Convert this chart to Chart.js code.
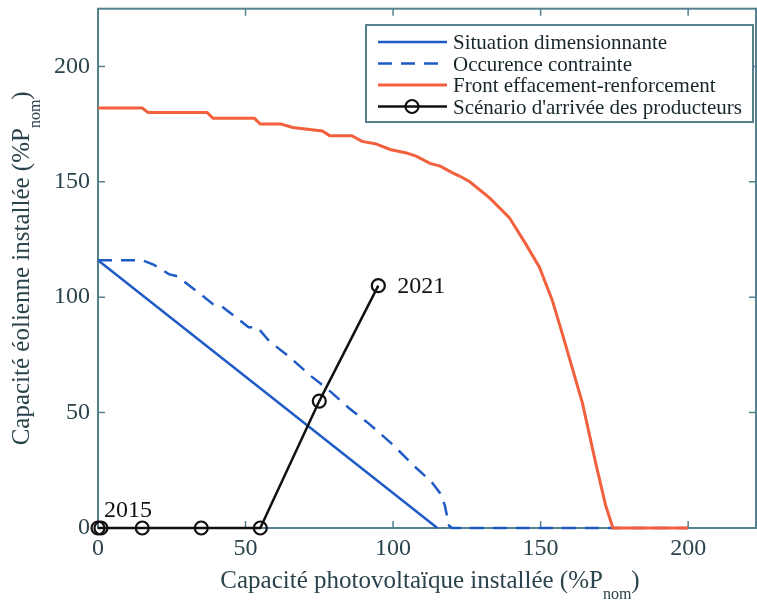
<!DOCTYPE html>
<html>
<head>
<meta charset="utf-8">
<script src="https://cdn.jsdelivr.net/npm/chart.js@4.4.1/dist/chart.umd.min.js"></script>
<style>
  html, body { margin: 0; padding: 0; background: #fff; }
  #wrap { width: 757px; height: 603px; }
</style>
</head>
<body>
<div id="wrap"><canvas id="chart" width="757" height="603"></canvas></div>
<script>
// Situation dimensionnante
const solidPv = [0, 115];
const solidWind = [116, 0];

// Occurence contrainte
const dashedPv = [0, 15, 19, 24, 27, 33, 39, 42, 48, 51, 54, 58, 65, 72, 78, 85, 92, 100, 107, 113, 116, 117.5, 119, 120, 200];
const dashedWind = [116, 116, 114, 110, 109, 103, 97, 96, 90, 87, 87, 81, 74, 66, 60, 52, 45, 36, 27, 20, 15, 10, 1, 0, 0];

// Front effacement-renforcement
const frontPv = [0, 15, 17, 37, 39, 53, 55, 62, 66, 76, 78.5, 86, 89.5, 94, 99, 104.5, 108, 112.5, 116, 120, 122.5, 126, 132.7, 139.4, 145, 149.6, 154, 157.4, 164.2, 168.7, 172, 174.5, 200];
const frontWind = [182, 182, 180, 180, 177.5, 177.5, 175, 175, 173.5, 172, 170, 170, 167.5, 166.5, 164, 162.5, 161, 158, 156.8, 154, 152.5, 150, 143, 134.5, 123, 113, 98.5, 84, 54, 28, 10, 0, 0];

// Scénario d'arrivée des producteurs
const scenPv = [0, 1, 15, 35, 55, 75, 95];
const scenWind = [0, 0, 0, 0, 0, 55, 105];

const xTicks = [0, 50, 100, 150, 200];
const yTicks = [0, 50, 100, 150, 200];

const seriesNames = ['Situation dimensionnante', 'Occurence contrainte', 'Front effacement-renforcement', "Scénario d'arrivée des producteurs"];

const BLUE = '#1f5bc6';
const RED = '#f2603e';
const BLACK = '#111111';
const AXIS = '#55808e';
const SERIF = '"Liberation Serif", "DejaVu Serif", serif';

function pts(xs, ys) {
    return xs.map((x, i) => ({ x: x, y: ys[i] }));
}

// frame, inward ticks, axis titles, year labels and legend
const decor = {
    id: 'decor',
    afterLayout(chart) {
        // plot box runs to the right edge of the figure
        const right = chart.width - 1;
        const sx = chart.scales.x;
        chart.chartArea.right = right;
        chart.chartArea.width = right - chart.chartArea.left;
        sx.right = right;
        sx.width = right - sx.left;
        sx.configure();
    },
    beforeDatasetsDraw(chart) {
        const ctx = chart.ctx;
        const a = chart.chartArea;
        const sx = chart.scales.x, sy = chart.scales.y;
        ctx.save();
        ctx.strokeStyle = AXIS;
        ctx.lineWidth = 2;
        ctx.strokeRect(a.left, a.top, a.right - a.left, a.bottom - a.top);
        ctx.lineWidth = 1.5;
        ctx.beginPath();
        xTicks.forEach(v => {
            const px = sx.getPixelForValue(v);
            ctx.moveTo(px, a.bottom); ctx.lineTo(px, a.bottom - 7);
            ctx.moveTo(px, a.top); ctx.lineTo(px, a.top + 7);
        });
        yTicks.forEach(v => {
            const py = sy.getPixelForValue(v);
            ctx.moveTo(a.left, py); ctx.lineTo(a.left + 7, py);
            ctx.moveTo(a.right, py); ctx.lineTo(a.right - 7, py);
        });
        ctx.stroke();
        ctx.restore();
    },
    afterDraw(chart) {
        const ctx = chart.ctx;
        const a = chart.chartArea;
        const sx = chart.scales.x, sy = chart.scales.y;
        ctx.save();

        // axis titles with subscript
        function measure(main, sub, tail) {
            ctx.font = '25px ' + SERIF;
            const w1 = ctx.measureText(main).width;
            const w3 = ctx.measureText(tail).width;
            ctx.font = '16px ' + SERIF;
            const w2 = ctx.measureText(sub).width;
            return { w1, w2, w3, total: w1 + w2 + w3 };
        }
        function drawSub(main, sub, tail, x0, base) {
            const m = measure(main, sub, tail);
            const x = x0 - m.total / 2;
            ctx.textAlign = 'left';
            ctx.textBaseline = 'alphabetic';
            ctx.font = '25px ' + SERIF;
            ctx.fillText(main, x, base);
            ctx.font = '16px ' + SERIF;
            ctx.fillText(sub, x + m.w1, base + 11);
            ctx.font = '25px ' + SERIF;
            ctx.fillText(tail, x + m.w1 + m.w2, base);
        }
        ctx.fillStyle = '#2b434c';
        drawSub('Capacité photovoltaïque installée (%P', 'nom', ')', 430, 588);

        ctx.save();
        ctx.translate(29, (a.top + a.bottom) / 2);
        ctx.rotate(-Math.PI / 2);
        drawSub('Capacité éolienne installée (%P', 'nom', ')', 0, 0);
        ctx.restore();

        // year labels next to first and last scenario points
        ctx.fillStyle = '#111';
        ctx.font = '24px ' + SERIF;
        ctx.textAlign = 'left';
        ctx.fillText('2015', sx.getPixelForValue(scenPv[0]) + 6, sy.getPixelForValue(scenWind[0]) - 11);
        const last = scenPv.length - 1;
        ctx.fillText('2021', sx.getPixelForValue(scenPv[last]) + 19, sy.getPixelForValue(scenWind[last]) + 7);

        // legend box
        const lx = 366, ly = 25, lw = 387, lh = 97;
        ctx.fillStyle = '#fff';
        ctx.fillRect(lx, ly, lw, lh);
        ctx.strokeStyle = AXIS;
        ctx.lineWidth = 2;
        ctx.strokeRect(lx, ly, lw, lh);
        const rows = [42, 63.5, 85, 106.5];
        chart.data.datasets.forEach((ds, i) => {
            const y = rows[i];
            ctx.save();
            ctx.strokeStyle = ds.borderColor;
            ctx.lineWidth = ds.borderWidth;
            ctx.setLineDash(ds.borderDash || []);
            ctx.beginPath();
            ctx.moveTo(378, y); ctx.lineTo(447, y);
            ctx.stroke();
            if (ds.pointRadius > 0) {
                ctx.setLineDash([]);
                ctx.lineWidth = ds.pointBorderWidth;
                ctx.beginPath();
                ctx.arc(412, y, ds.pointRadius, 0, Math.PI * 2);
                ctx.stroke();
            }
            ctx.restore();
            ctx.fillStyle = '#17262c';
            ctx.font = '21px ' + SERIF;
            ctx.textAlign = 'left';
            ctx.textBaseline = 'alphabetic';
            ctx.fillText(ds.label, 453, y + 7);
        });
        ctx.restore();
    }
};

const keepTicks = list => scale => {
    scale.ticks = list.map(v => ({ value: v }));
};

// no extra room for tick label overhang
const noOverhang = size => s => {
    if (s.isHorizontal()) s.height = size; else s.width = size;
    s.paddingTop = 0; s.paddingBottom = 0; s.paddingLeft = 0; s.paddingRight = 0;
};

new Chart(document.getElementById('chart').getContext('2d'), {
    type: 'line',
    data: {
        datasets: [{
            label: seriesNames[0],
            data: pts(solidPv, solidWind),
            borderColor: BLUE,
            borderWidth: 2.5,
            pointRadius: 0,
            order: 3
        }, {
            label: seriesNames[1],
            data: pts(dashedPv, dashedWind),
            borderColor: BLUE,
            borderWidth: 2.5,
            borderDash: [14, 9],
            pointRadius: 0,
            order: 2
        }, {
            label: seriesNames[2],
            data: pts(frontPv, frontWind),
            borderColor: RED,
            borderWidth: 3,
            pointRadius: 0,
            order: 1
        }, {
            label: seriesNames[3],
            data: pts(scenPv, scenWind),
            borderColor: BLACK,
            borderWidth: 2.5,
            pointRadius: 6.5,
            pointBorderWidth: 2.2,
            pointBorderColor: BLACK,
            pointBackgroundColor: 'rgba(0,0,0,0)',
            order: 0
        }]
    },
    options: {
        responsive: false,
        animation: false,
        clip: false,
        layout: { padding: { top: 8, right: 1, left: 0, bottom: 0 } },
        elements: { line: { tension: 0 } },
        scales: {
            x: {
                type: 'linear',
                min: 0,
                max: 223,
                afterBuildTicks: keepTicks(xTicks),
                afterFit: noOverhang(75),
                grid: { display: false, drawTicks: false },
                border: { display: false },
                ticks: { color: '#2b434c', padding: 6, font: { family: SERIF, size: 24 }, maxRotation: 0 }
            },
            y: {
                type: 'linear',
                min: 0,
                max: 225,
                afterBuildTicks: keepTicks(yTicks),
                afterFit: noOverhang(98),
                grid: { display: false, drawTicks: false },
                border: { display: false },
                ticks: { color: '#2b434c', padding: 8, font: { family: SERIF, size: 24 } }
            }
        },
        plugins: {
            legend: { display: false },
            tooltip: { enabled: false }
        }
    },
    plugins: [decor]
});
</script>
</body>
</html>
